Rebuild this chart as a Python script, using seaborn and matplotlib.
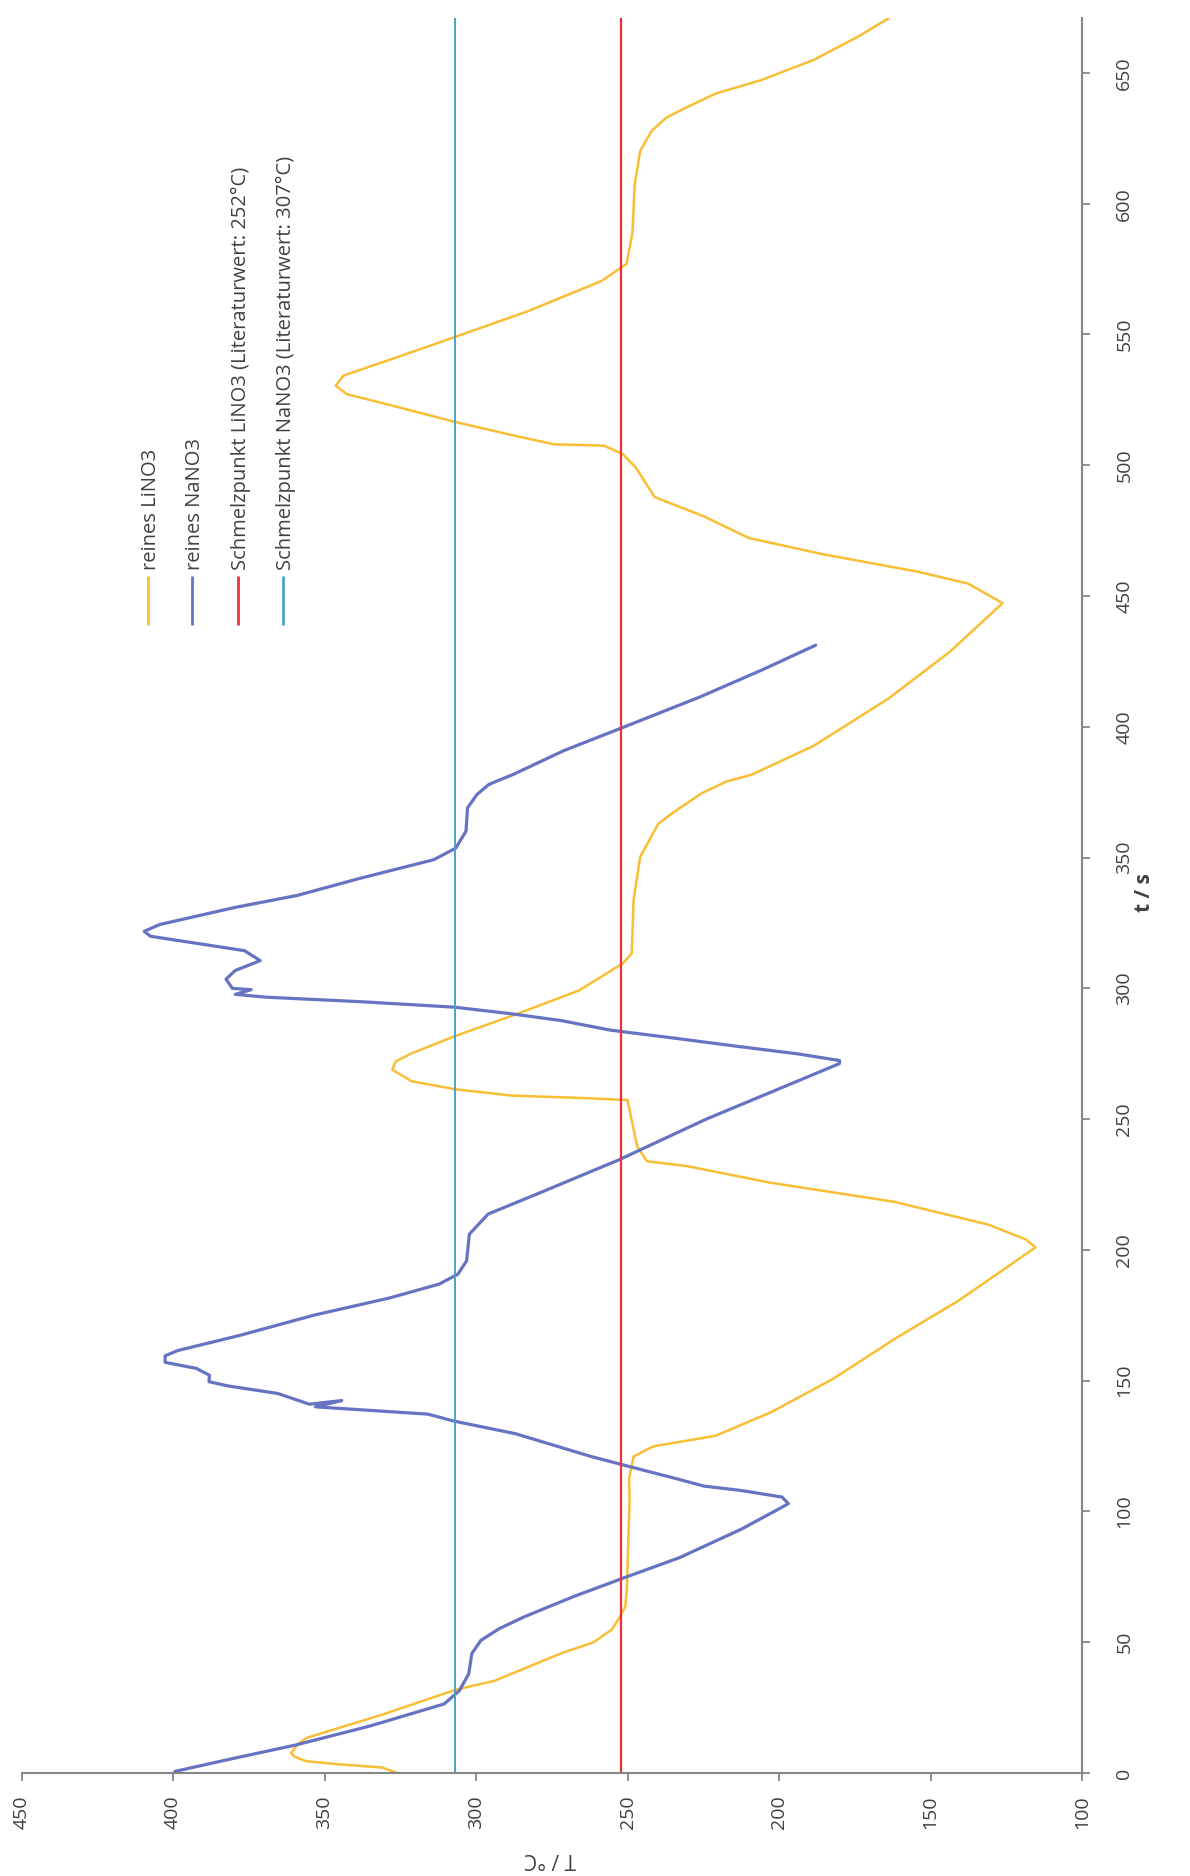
import numpy as np
import pandas as pd
import matplotlib
matplotlib.use("Agg")
import matplotlib.pyplot as plt
import seaborn as sns

# ---------------- data ----------------
# reines LiNO3: time t [s] and temperature T [°C]
li_t = [0, 2.1, 3.3, 4.5, 6.3, 7.6, 10.8, 13.4, 22.3, 31.9, 35.2, 45.9, 49.9, 54.8, 58.8,
        63.7, 70.5, 104.5, 112.5, 121, 124.9, 128.9, 138, 150.8, 166.2, 180.4, 200.9, 204,
        209.7, 218.4, 225.8, 232, 233.9, 239.5, 257.3, 258, 259, 261.4, 264.5, 268.9, 272,
        275.1, 281.7, 290.2, 299.2, 309.5, 313.3, 333.7, 350.3, 363, 368.2, 374.6, 379.1,
        381.7, 392.7, 410.7, 428.7, 447.3, 454.8, 459.3, 465.9, 472.2, 480.3, 487.8, 499.3,
        504.3, 507.5, 508, 511.7, 516.7, 522.3, 527.2, 530.4, 534.3, 541.4, 549.1, 558.8,
        570.5, 577, 588.6, 607.5, 620.2, 627.9, 633, 636.9, 642.1, 647.2, 655, 664, 671]
li_T = [326, 331, 345, 356, 360, 361, 359, 356, 331, 306.5, 294, 271.6, 261.3, 255.2, 253,
        250.7, 250.2, 249.3, 249.5, 248, 241.5, 221, 202.5, 182, 161.5, 141, 115.4, 118.5,
        131, 162, 203.4, 230.2, 243.6, 246.8, 250, 263.4, 288.2, 306.8, 321.3, 327.6, 326.5,
        321.4, 307, 286.5, 266, 251.6, 248.6, 248, 245.8, 239.8, 233.7, 225.5, 217.3,
        209, 188.6, 164, 143.6, 126.2, 137.7, 154.2, 185.2, 210, 224.5, 241, 247.4,
        251.6, 257.8, 274.3, 288.8, 307.4, 326, 342.6, 346.3, 343.7, 325.8, 306.8, 283.1,
        258.5, 250.3, 248.4, 247.6, 245.8, 242, 237.1, 230.4, 220.9, 206, 188.5, 173.7, 163.7]

# reines NaNO3
na_t = [0.6, 5.5, 10.6, 17.9, 26.4, 31.5, 37.9, 45.6, 50.7, 55.2, 59.7, 67.5, 74.6, 82.4,
        93.3, 101, 103, 105.5, 108, 109.7, 112.3, 116, 121, 129.7, 134.6, 137.2, 140, 142.4,
        141, 145.1, 148, 149.6, 152.1, 154.7, 157, 159.5, 161.5, 167.3, 175.1, 181.6, 186.9,
        190.7, 195.8, 206, 213.7, 221.5, 234.4, 249.9, 262.8, 271.2, 272.4, 274.9, 277.9, 281,
        284, 287.7, 290.3, 292.8, 294.9, 296.6, 297.7, 299.5, 300, 303.5, 306.8, 310.6, 314.4,
        316.8, 319.9, 321.8, 324.4, 330.9, 335.5, 342, 349.2, 353.6, 360.1, 369, 374.1, 378,
        381.9, 390.9, 399.3, 411.5, 421.9, 431.2]
na_T = [399.4, 380.4, 359.9, 335.2, 310.5, 305.5, 302.4, 301.4, 298.4, 292.3, 284.1, 267.7,
        251.2, 232.7, 212.3, 200, 196.9, 199, 212.4, 224.8, 233.1, 245.5, 262, 286.9, 307.5,
        315.8, 353, 344.3, 355, 365.4, 381.9, 388.1, 388, 392.3, 402.6, 402.6, 398.5, 378,
        353.3, 328.6, 312.2, 306, 303.1, 302.2, 296, 279.6, 252.9, 224.2, 197.5, 180.1, 180,
        193.5, 214.2, 234.8, 255.5, 272, 288.5, 307.1, 338.1, 369, 379.4, 374.2, 380.4, 382.5,
        379.5, 371.2, 376.4, 389.9, 407.4, 409.5, 404.4, 379.7, 359.1, 338.5, 313.9, 306.7,
        303.3, 302.8, 299.7, 295.7, 287.5, 271, 252.5, 225.9, 205.3, 187.9]

# literature melting points
mp_li = 252
mp_na = 307

series_names = ["reines LiNO3", "reines NaNO3",
                "Schmelzpunkt LiNO3 (Literaturwert: 252°C)",
                "Schmelzpunkt NaNO3 (Literaturwert: 307°C)"]
series_colors = ["#F9BE34", "#6672C2", "#E8323A", "#4AA3C8"]

T_ticks = [100, 150, 200, 250, 300, 350, 400, 450]
t_ticks = list(range(0, 651, 50))
T_range = (450, 100)
t_range = (0, 671)

# ---------------- figure ----------------
sns.set_theme(style="white")
plt.rcParams["font.family"] = ["Open Sans", "DejaVu Sans"]

W, H = 1190, 1876
fig = plt.figure(figsize=(W / 100, H / 100), dpi=100)
ax_l, ax_r, ax_b, ax_t = 21.5, 1082, 1773, 18
ax = fig.add_axes([ax_l / W, 1 - ax_b / H, (ax_r - ax_l) / W, (ax_b - ax_t) / H])

li_df = pd.DataFrame({"t": li_t, "T": li_T})
na_df = pd.DataFrame({"t": na_t, "T": na_T})

sns.lineplot(data=li_df, x="T", y="t", sort=False, estimator=None, ax=ax,
             color=series_colors[0], linewidth=1.8)
sns.lineplot(data=na_df, x="T", y="t", sort=False, estimator=None, ax=ax,
             color=series_colors[1], linewidth=2.3)
ax.axvline(mp_li, color=series_colors[2], linewidth=1.6)
ax.axvline(mp_na, color=series_colors[3], linewidth=1.4)

ax.set_xlim(*T_range)
ax.set_ylim(*t_range)
ax.set_xlabel("")
ax.set_ylabel("")

ax.set_xticks(T_ticks)
ax.set_xticklabels([str(v) for v in T_ticks])
ax.set_yticks(t_ticks)
ax.set_yticklabels([str(v) for v in t_ticks])
ax.yaxis.tick_right()

axis_col = "#868686"
txt_col = "#404040"
for s in ["left", "top"]:
    ax.spines[s].set_visible(False)
for s in ["bottom", "right"]:
    ax.spines[s].set_color(axis_col)
    ax.spines[s].set_linewidth(1.5)

ax.tick_params(axis="x", bottom=True, direction="out", length=6, width=1.3,
               color=axis_col, labelsize=14, labelcolor=txt_col, labelrotation=90, pad=10)
ax.tick_params(axis="y", right=True, left=False, direction="out", length=6, width=1.3,
               color=axis_col, labelsize=14, labelcolor=txt_col, labelrotation=90, pad=18)
for lab in ax.get_yticklabels():
    lab.set_va("center")
    lab.set_ha("left")
ax.grid(False)

# axis titles (chart is rotated by 90°)
fig.text(550 / W, 1 - 1858 / H, "T / °C", rotation=180, ha="center", va="center",
         fontsize=15, color=txt_col)
fig.text(1145 / W, 1 - 893 / H, "t / s", rotation=90, ha="center", va="center",
         fontsize=15, fontweight="bold", color=txt_col)

# ---------------- legend (rotated, drawn manually) ----------------
leg_x = [147.5, 192, 237.5, 283]
for name, col, lx in zip(series_names, series_colors, leg_x):
    xa = (lx - ax_l) / (ax_r - ax_l)
    ya0 = (ax_b - 625) / (ax_b - ax_t)
    ya1 = (ax_b - 576) / (ax_b - ax_t)
    ax.plot([xa, xa], [ya0, ya1], color=col, linewidth=2, transform=ax.transAxes,
            solid_capstyle="butt")
    ax.text(xa + 0.003, (ax_b - 570) / (ax_b - ax_t), name, rotation=90, ha="center",
            va="bottom", fontsize=14.5, color=txt_col, transform=ax.transAxes)

fig.savefig("out.png", dpi=100, facecolor="white")
